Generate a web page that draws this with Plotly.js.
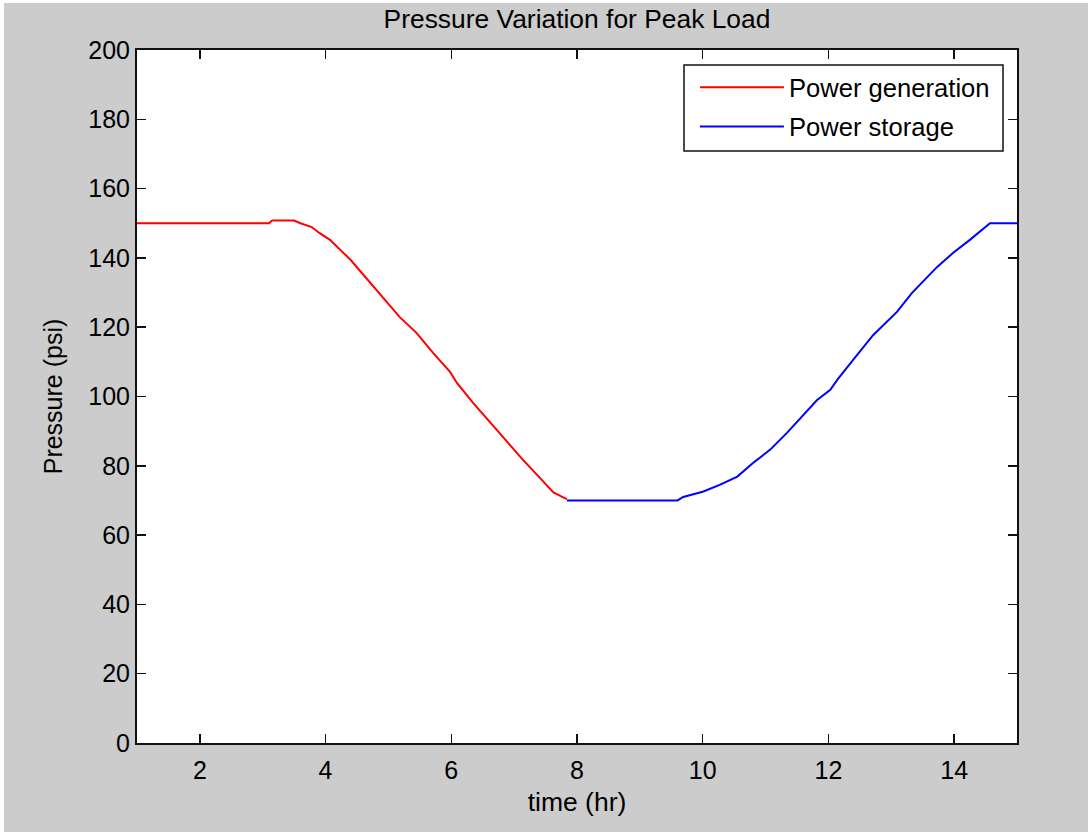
<!DOCTYPE html>
<html>
<head>
<meta charset="utf-8">
<script src="https://cdn.plot.ly/plotly-3.0.1.min.js"></script>
<style>
  html, body { margin: 0; padding: 0; background: #ffffff; }
  #chart { position: absolute; left: 4px; top: 3px; width: 1084px; height: 829px; }
</style>
</head>
<body>
<div id="chart"></div>
<script>
// Power generation (red)
const genTime = [1, 3.1, 3.15, 3.5, 3.6, 3.78, 3.9, 4.07, 4.4, 4.65, 4.91, 5.18, 5.45, 5.71, 5.98, 6.09, 6.35, 6.62, 6.89, 7.14, 7.41, 7.62, 7.75, 7.84];
const genPressure = [150, 150, 150.8, 150.8, 150, 148.9, 147.2, 145.2, 139.4, 134.2, 128.7, 122.9, 118.3, 112.6, 107.1, 103.9, 98.1, 92.4, 86.9, 81.7, 76.5, 72.4, 71.2, 70.4];
// Power storage (blue)
const stoTime = [7.84, 9.6, 9.69, 10.0, 10.27, 10.55, 10.8, 11.07, 11.34, 11.6, 11.82, 12.03, 12.14, 12.39, 12.71, 13.09, 13.33, 13.73, 13.98, 14.25, 14.57, 15];
const stoPressure = [70, 70, 71.0, 72.5, 74.5, 76.9, 80.8, 84.6, 89.5, 94.7, 99.0, 101.9, 104.8, 110.5, 117.7, 124.4, 129.9, 137.4, 141.4, 145.2, 150, 150];

const xTicks = [2, 4, 6, 8, 10, 12, 14];
const yTicks = [0, 20, 40, 60, 80, 100, 120, 140, 160, 180, 200];

const FONT = "Liberation Sans, Arial, Helvetica, sans-serif";
const FS = 25;

const traces = [
  { x: genTime, y: genPressure, type: 'scatter', mode: 'lines', name: 'Power generation',
    legendgroup: 'gen', line: { color: '#ff0000', width: 2 } },
  { x: stoTime, y: stoPressure, type: 'scatter', mode: 'lines', name: 'Power storage',
    legendgroup: 'sto', line: { color: '#0000ff', width: 2 } }
];

const axisCommon = {
  showgrid: false, zeroline: false, showline: true, mirror: 'ticks',
  linecolor: '#111111', linewidth: 2, ticks: 'inside', ticklen: 9,
  tickwidth: 1.5, tickcolor: '#111111',
  tickfont: { family: FONT, size: FS, color: '#000' }
};

const layout = {
  width: 1084, height: 829,
  paper_bgcolor: '#cccccc', plot_bgcolor: '#ffffff',
  margin: { l: 133, r: 71, t: 47, b: 89 },
  font: { family: FONT, size: FS, color: '#000' },
  title: { text: 'Pressure Variation for Peak Load', font: { family: FONT, size: 26.4, color: '#000' },
           x: 0.5, xref: 'paper', xanchor: 'center', y: 1 - 16 / 829, yref: 'container', yanchor: 'middle' },
  xaxis: Object.assign({}, axisCommon, {
    range: [1, 15], tickvals: xTicks, ticktext: xTicks.map(String),
    ticklabelstandoff: 4,
    title: { text: 'time (hr)', font: { family: FONT, size: 26.5, color: '#000' }, standoff: 9 }
  }),
  yaxis: Object.assign({}, axisCommon, {
    range: [0, 200], tickvals: yTicks, ticktext: yTicks.map(String),
    title: { text: 'Pressure (psi)', font: { family: FONT, size: FS, color: '#000' }, standoff: 19 }
  }),
  showlegend: true,
  legend: {
    x: 0.634, xanchor: 'left', y: 0.9798, yanchor: 'top',
    bgcolor: 'rgba(0,0,0,0)', borderwidth: 0,
    font: { family: FONT, size: 25.6, color: '#000' },
    itemwidth: 84, traceorder: 'grouped', tracegroupgap: 3
  },
  shapes: [{
    type: 'rect', xref: 'paper', yref: 'paper', layer: 'above',
    x0: 0.6216, x1: 0.9841, y0: 0.8543, y1: 0.9784,
    fillcolor: '#ffffff', line: { color: '#111111', width: 1.5 }
  }]
};

Plotly.newPlot('chart', traces, layout, { displayModeBar: false, staticPlot: true });
</script>
</body>
</html>
